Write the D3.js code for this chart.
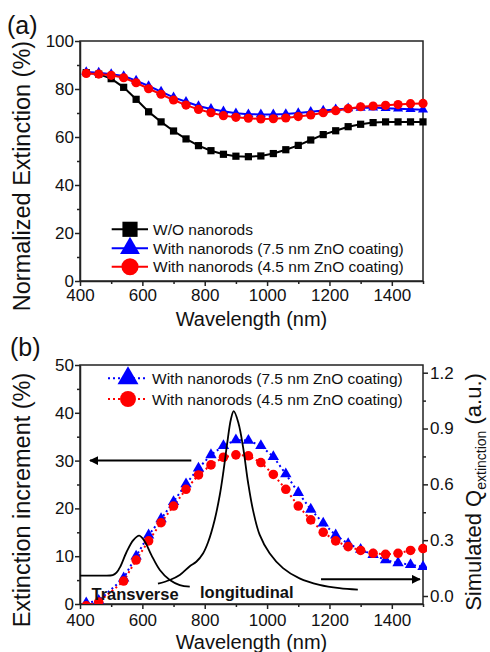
<!DOCTYPE html>
<html><head><meta charset="utf-8">
<script src="https://cdn.jsdelivr.net/npm/d3@7"></script>
<style>
body{margin:0;background:#fff}
svg text{font-family:"Liberation Sans",Arial,Helvetica,sans-serif;fill:#111}
</style>
</head><body>
<svg id="c" width="490" height="652"></svg>
<script>
// ---------- data: panel (a) ----------
const wavelengthA = [420,460,500,540,580,620,660,700,740,780,820,860,900,940,980,1020,1060,1100,1140,1180,1220,1260,1300,1340,1380,1420,1460,1500];
const woNanorods  = [86.8,86.2,84.3,80.7,75.7,70.5,66.3,62.5,59.2,56.4,54.3,52.8,52.0,51.8,52.1,53.1,54.7,56.5,58.75,61.0,62.6,64.3,65.3,66.0,66.3,66.3,66.3,66.3];
const nr75A       = [87.1,86.8,86.2,85.4,83.5,81.25,78.9,76.5,74.7,72.9,71.7,70.7,69.9,69.5,69.4,69.4,69.6,70.0,70.5,71.0,71.5,71.9,72.2,72.3,72.0,71.8,71.6,71.4];
const nr45A       = [86.5,86.2,85.7,84.7,82.6,80.1,77.8,75.4,73.3,71.5,70.1,68.9,68.2,67.8,67.5,67.6,67.9,68.5,69.2,70.1,70.97,71.8,72.6,72.9,73.2,73.5,73.9,74.0];
const legendA = ["W/O nanorods","With nanorods (7.5 nm ZnO coating)","With nanorods (4.5 nm ZnO coating)"];

// ---------- data: panel (b) ----------
const wavelengthB = [420,460,540,580,620,660,700,740,780,820,860,900,940,980,1020,1060,1100,1140,1180,1220,1260,1300,1340,1380,1420,1460,1500];
const incr75 = [0.2,0.7,5.4,10.0,14.4,17.8,21.4,25.1,28.4,31.2,33.1,34.3,34.2,33.1,30.8,27.2,23.3,19.8,16.9,14.4,12.6,11.4,10.3,9.2,8.6,8.2,7.8];
const incr45 = [-0.4,0.4,4.8,9.2,13.2,17.0,20.5,24.0,27.0,29.1,30.7,31.2,31.0,29.6,27.1,24.0,20.5,17.6,15.0,13.2,12.0,11.2,10.6,10.4,10.6,11.2,11.6];
const legendB = ["With nanorods (7.5 nm ZnO coating)","With nanorods (4.5 nm ZnO coating)"];
// simulated Q extinction (right axis)
const transverseWl = [400,460,505,517,530,549,571,590,608,629,656,688,720,752];
const transverseQ  = [0.110,0.110,0.112,0.125,0.160,0.235,0.300,0.324,0.292,0.220,0.140,0.086,0.059,0.050];
const longitudinalWl = [650,688,720,752,773,795,811,832,848,860,872,884,893,908,923,939,955,976,1008,1051,1104,1168,1232,1291];
const longitudinalQ  = [0.066,0.086,0.113,0.160,0.184,0.230,0.290,0.410,0.540,0.670,0.820,0.950,0.993,0.930,0.800,0.610,0.460,0.330,0.230,0.150,0.095,0.060,0.042,0.034];

// ---------- ticks ----------
const xTicks = [400,600,800,1000,1200,1400];
const xMinor = [500,700,900,1100,1300,1500];
const yTicksA = [0,20,40,60,80,100];
const yMinorA = [10,30,50,70,90];
const yTicksB = [0,10,20,30,40,50];
const yMinorB = [5,15,25,35,45];
const yTicksR = [0.0,0.3,0.6,0.9,1.2];
const yMinorR = [0.15,0.45,0.75,1.05];

const svg = d3.select("#c");
const AX = "#222";

const x = d3.scaleLinear().domain([400,1500]).range([80,423]);
const yA = d3.scaleLinear().domain([0,100]).range([281,41]);
const yB = d3.scaleLinear().domain([0,50]).range([604,365]);
const yR = d3.scaleLinear().domain([0,1.2]).range([596,372.7]);

function styleAxis(g, fs){
  g.selectAll("path").attr("stroke",AX).attr("stroke-width",1.5);
  g.selectAll("line").attr("stroke",AX).attr("stroke-width",1.5);
  g.selectAll("text").attr("font-size",fs).attr("fill","#111")
   .style("font-family",'"Liberation Sans",Arial,sans-serif');
}
function frame(y0,y1){
  svg.append("rect").attr("x",80).attr("y",y1).attr("width",343).attr("height",y0-y1)
    .attr("fill","none").attr("stroke",AX).attr("stroke-width",1.5);
}
function xAxis(yPos, pad){
  const g = svg.append("g").attr("transform",`translate(0,${yPos})`)
    .call(d3.axisBottom(x).tickValues(xTicks).tickSize(5).tickPadding(pad).tickSizeOuter(0).tickFormat(d3.format("d")));
  styleAxis(g,17);
  const m = svg.append("g").attr("transform",`translate(0,${yPos})`)
    .call(d3.axisBottom(x).tickValues(xMinor).tickSize(3).tickFormat("").tickSizeOuter(0));
  styleAxis(m,17); m.select("path").remove();
}
function yAxisLeft(scale, ticks, minor, fmt){
  const g = svg.append("g").attr("transform","translate(80,0)")
    .call(d3.axisLeft(scale).tickValues(ticks).tickSize(5).tickPadding(1).tickSizeOuter(0).tickFormat(fmt));
  styleAxis(g,17);
  const m = svg.append("g").attr("transform","translate(80,0)")
    .call(d3.axisLeft(scale).tickValues(minor).tickSize(3).tickFormat("").tickSizeOuter(0));
  styleAxis(m,17); m.select("path").remove();
}

// ================= Panel (a) =================
frame(281,41);
xAxis(281,3);
yAxisLeft(yA,yTicksA,yMinorA,d3.format("d"));

const seriesA = [
  {vals:woNanorods, color:"#000", sym:d3.symbolSquare, size:52, lsize:230},
  {vals:nr75A, color:"#0000ff", sym:d3.symbolTriangle, size:44, lsize:170},
  {vals:nr45A, color:"#ff0000", sym:d3.symbolCircle, size:66, lsize:230}
];
const lineA = d3.line().x((d,i)=>x(wavelengthA[i])).y(d=>yA(d));
seriesA.forEach(s=>{
  svg.append("path").attr("d",lineA(s.vals)).attr("fill","none").attr("stroke",s.color).attr("stroke-width",2);
  svg.append("g").selectAll("path").data(s.vals).join("path")
    .attr("transform",(d,i)=>`translate(${x(wavelengthA[i])},${yA(d)})`)
    .attr("d",d3.symbol().type(s.sym).size(s.size)).attr("fill",s.color);
});
// legend (a)
const legYA = [229.3,248.3,266.7];
seriesA.forEach((s,i)=>{
  svg.append("line").attr("x1",111.7).attr("x2",148).attr("y1",legYA[i]).attr("y2",legYA[i])
    .attr("stroke",s.color).attr("stroke-width",2);
  svg.append("path").attr("transform",`translate(130,${legYA[i]})`)
    .attr("d",d3.symbol().type(s.sym).size(s.lsize)).attr("fill",s.color);
  svg.append("text").attr("x",153).attr("y",legYA[i]+5.5).attr("font-size",15.5).text(legendA[i]);
});
svg.append("text").attr("x",251.5).attr("y",326).attr("text-anchor","middle").attr("font-size",20).text("Wavelength (nm)");
svg.append("text").attr("transform","translate(30,176) rotate(-90)").attr("text-anchor","middle").attr("font-size",23.5).text("Normalized Extinction (%)");
svg.append("text").attr("x",7).attr("y",34).attr("font-size",25).text("(a)");

// ================= Panel (b) =================
frame(604,365);
xAxis(604,5);
yAxisLeft(yB,yTicksB,yMinorB,d3.format("d"));
const gR = svg.append("g").attr("transform","translate(423,0)")
  .call(d3.axisRight(yR).tickValues(yTicksR).tickSize(5).tickPadding(2).tickSizeOuter(0).tickFormat(d3.format(".1f")));
styleAxis(gR,17); gR.select("path").remove();
const mR = svg.append("g").attr("transform","translate(423,0)")
  .call(d3.axisRight(yR).tickValues(yMinorR).tickSize(3).tickFormat("").tickSizeOuter(0));
styleAxis(mR,17); mR.select("path").remove();

svg.append("defs").append("clipPath").attr("id","clipB").append("rect")
  .attr("x",75).attr("y",360).attr("width",352).attr("height",244);

const seriesB = [
  {vals:incr75, color:"#0000ff", sym:d3.symbolTriangle, size:56, lsize:190},
  {vals:incr45, color:"#ff0000", sym:d3.symbolCircle, size:72, lsize:200}
];
const lineB = d3.line().x((d,i)=>x(wavelengthB[i])).y(d=>yB(d));
const gB = svg.append("g").attr("clip-path","url(#clipB)");
seriesB.forEach(s=>{
  gB.append("path").attr("d",lineB(s.vals)).attr("fill","none").attr("stroke",s.color)
    .attr("stroke-width",2).attr("stroke-dasharray","2,3");
});
seriesB.forEach(s=>{
  gB.append("g").selectAll("path").data(s.vals).join("path")
    .attr("transform",(d,i)=>`translate(${x(wavelengthB[i])},${yB(d)})`)
    .attr("d",d3.symbol().type(s.sym).size(s.size)).attr("fill",s.color);
});
// simulated curves
const qLine = (wl)=>d3.line().curve(d3.curveCatmullRom.alpha(0.5)).x((d,i)=>x(wl[i])).y(d=>yR(d));
svg.append("path").attr("d",qLine(transverseWl)(transverseQ)).attr("fill","none").attr("stroke","#000").attr("stroke-width",1.8);
svg.append("path").attr("d",qLine(longitudinalWl)(longitudinalQ)).attr("fill","none").attr("stroke","#000").attr("stroke-width",1.8);

// arrows
const defs = svg.select("defs");
defs.append("marker").attr("id","ah").attr("viewBox","0 0 10 10").attr("refX",9).attr("refY",5)
  .attr("markerWidth",4.5).attr("markerHeight",4.5).attr("orient","auto").attr("markerUnits","strokeWidth")
  .append("path").attr("d","M0,0L10,5L0,10Z").attr("fill","#000");
svg.append("line").attr("x1",x(757)).attr("x2",x(432)).attr("y1",yB(30)).attr("y2",yB(30))
  .attr("stroke","#000").attr("stroke-width",2).attr("marker-end","url(#ah)");
svg.append("line").attr("x1",x(1173)).attr("x2",x(1490)).attr("y1",yR(0.09)).attr("y2",yR(0.09))
  .attr("stroke","#000").attr("stroke-width",2).attr("marker-end","url(#ah)");

svg.append("text").attr("x",91.5).attr("y",600).attr("font-size",16.5).attr("font-weight","bold").text("Transverse");
svg.append("text").attr("x",200).attr("y",598).attr("font-size",16.5).attr("font-weight","bold").text("longitudinal");

// legend (b)
const legYB = [378.3,399];
seriesB.forEach((s,i)=>{
  svg.append("line").attr("x1",108).attr("x2",147).attr("y1",legYB[i]).attr("y2",legYB[i])
    .attr("stroke",s.color).attr("stroke-width",2).attr("stroke-dasharray","2,3");
  svg.append("path").attr("transform",`translate(128,${legYB[i]})`)
    .attr("d",d3.symbol().type(s.sym).size(s.lsize)).attr("fill",s.color);
  svg.append("text").attr("x",152).attr("y",legYB[i]+5.5).attr("font-size",15.5).text(legendB[i]);
});

svg.append("text").attr("x",251.5).attr("y",649).attr("text-anchor","middle").attr("font-size",20).text("Wavelength (nm)");
svg.append("text").attr("transform","translate(30,500) rotate(-90)").attr("text-anchor","middle").attr("font-size",23.5).text("Extinction increment (%)");
const rt = svg.append("text").attr("transform","translate(481,492) rotate(-90)").attr("text-anchor","middle").attr("font-size",22);
rt.append("tspan").text("Simulated Q");
rt.append("tspan").attr("font-size",14).attr("dy",5).text("extinction");
rt.append("tspan").attr("dy",-5).text(" (a.u.)");
svg.append("text").attr("x",10).attr("y",356).attr("font-size",25).text("(b)");
</script>
</body></html>
